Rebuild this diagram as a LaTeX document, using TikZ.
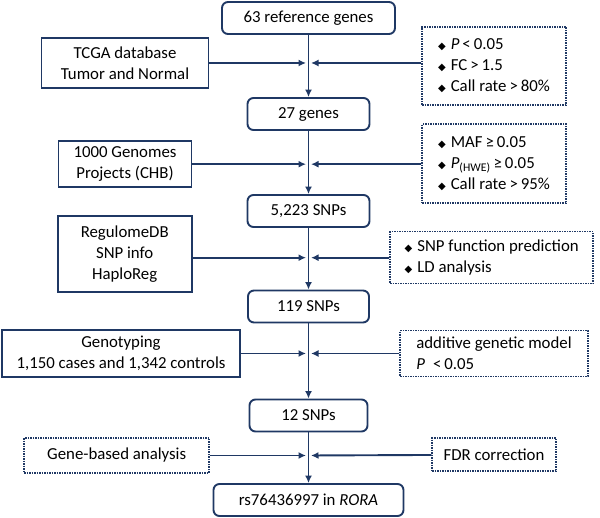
\documentclass[tikz,border=0pt]{standalone}
\usepackage{fontspec}
\setmainfont{Carlito}
\newfontfamily\symfont{DejaVu Sans}
\usetikzlibrary{positioning,calc,arrows.meta}
\definecolor{navy}{RGB}{31,56,100}
\newcommand{\dmd}{{\symfont\fontsize{10}{10}\selectfont ◆}\hspace{5pt}}

\tikzset{
	stepbox/.style={draw=navy, line width=1.9pt, rounded corners=6pt, minimum height=32pt, inner sep=0pt},
	srcbox/.style={draw=navy, line width=1.9pt, align=center, inner sep=0pt},
	critbox/.style={draw=navy, line width=1.5pt, dash pattern=on 1.5pt off 1pt, align=left, inner sep=0pt},
	flow/.style={draw=navy, line width=1.9pt, -{Latex[length=7.5pt,width=7pt]}},
	feed/.style={flow, shorten >=2.5pt}
}

\begin{document}
\begin{tikzpicture}[x=1pt,y=-1pt,font=\fontsize{16.8}{21}\selectfont]
	\useasboundingbox (0,0) rectangle (600,518);
	
	% main steps
	\node[stepbox, minimum width=173pt] (genes63) at (308.5,18) {63 reference genes};
	\node[stepbox, minimum width=122pt] (genes27) at (308.5,114) {27 genes};
	\node[stepbox, minimum width=122pt] (snps5223) at (308.5,211) {5,223 SNPs};
	\node[stepbox, minimum width=121pt] (snps119) at (308.5,306.5) {119 SNPs};
	\node[stepbox, minimum width=118pt] (snps12) at (308.5,415.5) {12 SNPs};
	\node[stepbox, minimum width=190pt] (rora) at (308.5,500) {rs76436997 in \textit{RORA}};
	
	% data sources
	\node[srcbox, minimum width=167pt, minimum height=50.6pt] (tcga) at (125,63) {TCGA database\\Tumor and Normal};
	\node[srcbox, minimum width=133pt, minimum height=46pt] (kgp) at (125,164.2) {1000 Genomes\\Projects (CHB)};
	\node[srcbox, minimum width=134pt, minimum height=76pt] (regdb) at (124.7,254) {RegulomeDB\\SNP info\\HaploReg};
	\node[srcbox, minimum width=238pt, minimum height=47.6pt] (geno) at (121,353.5) {Genotyping\\1,150 cases and 1,342 controls};
	\node[critbox, align=center, minimum width=185pt, minimum height=35pt] (gba) at (116.7,455.5) {Gene-based analysis};
	
	% criteria
	\node[critbox, minimum width=144pt, minimum height=78pt] (crit1) at (494,65.8) {\dmd\textit{P}\hspace{3pt}<\hspace{3pt}0.05\\\dmd FC\hspace{3pt}>\hspace{3pt}1.5\\\dmd Call rate\hspace{3pt}>\hspace{3pt}80\%};
	\node[critbox, minimum width=144pt, minimum height=79pt] (crit2) at (494,163.7) {\dmd MAF\hspace{3pt}≥\hspace{3pt}0.05\\\dmd\textit{P}\textsubscript{(HWE)}\hspace{3pt}≥\hspace{3pt}0.05\\\dmd Call rate\hspace{3pt}>\hspace{3pt}95\%};
	\node[critbox, minimum width=203pt, minimum height=52pt] (crit3) at (491.7,257.7) {\dmd SNP function prediction\\\dmd LD analysis};
	\node[critbox, minimum width=188pt, minimum height=45.6pt] (crit4) at (494,353.5) {additive genetic model\\\textit{P}\hspace{8pt}<\hspace{3pt}0.05};
	\node[critbox, align=center, minimum width=124pt, minimum height=33pt] (fdr) at (494,454.7) {FDR correction};
	
	% joins on the main line
	\coordinate (j1) at (genes63 |- tcga);
	\coordinate (j2) at (genes27 |- kgp);
	\coordinate (j3) at (snps5223 |- crit3);
	\coordinate (j4) at (snps119 |- geno);
	\coordinate (j5) at (snps12 |- gba);
	
	\draw[flow] (genes63) -- (genes27);
	\draw[flow] (genes27) -- (snps5223);
	\draw[flow] (snps5223) -- (snps119);
	\draw[flow] (snps119) -- (snps12);
	\draw[flow] (snps12) -- (rora);
	
	\draw[feed] (tcga) -- (j1);
	\draw[feed] (crit1.west |- j1) -- (j1);
	\draw[feed] (kgp) -- (j2);
	\draw[feed] (crit2.west |- j2) -- (j2);
	\draw[feed] (regdb.east |- j3) -- (j3);
	\draw[feed] (crit3) -- (j3);
	\draw[feed] (geno) -- (j4);
	\draw[feed] (crit4) -- (j4);
	\draw[feed] (gba) -- (j5);
	\draw[feed] (fdr) -- (j5);
\end{tikzpicture}
\end{document}
